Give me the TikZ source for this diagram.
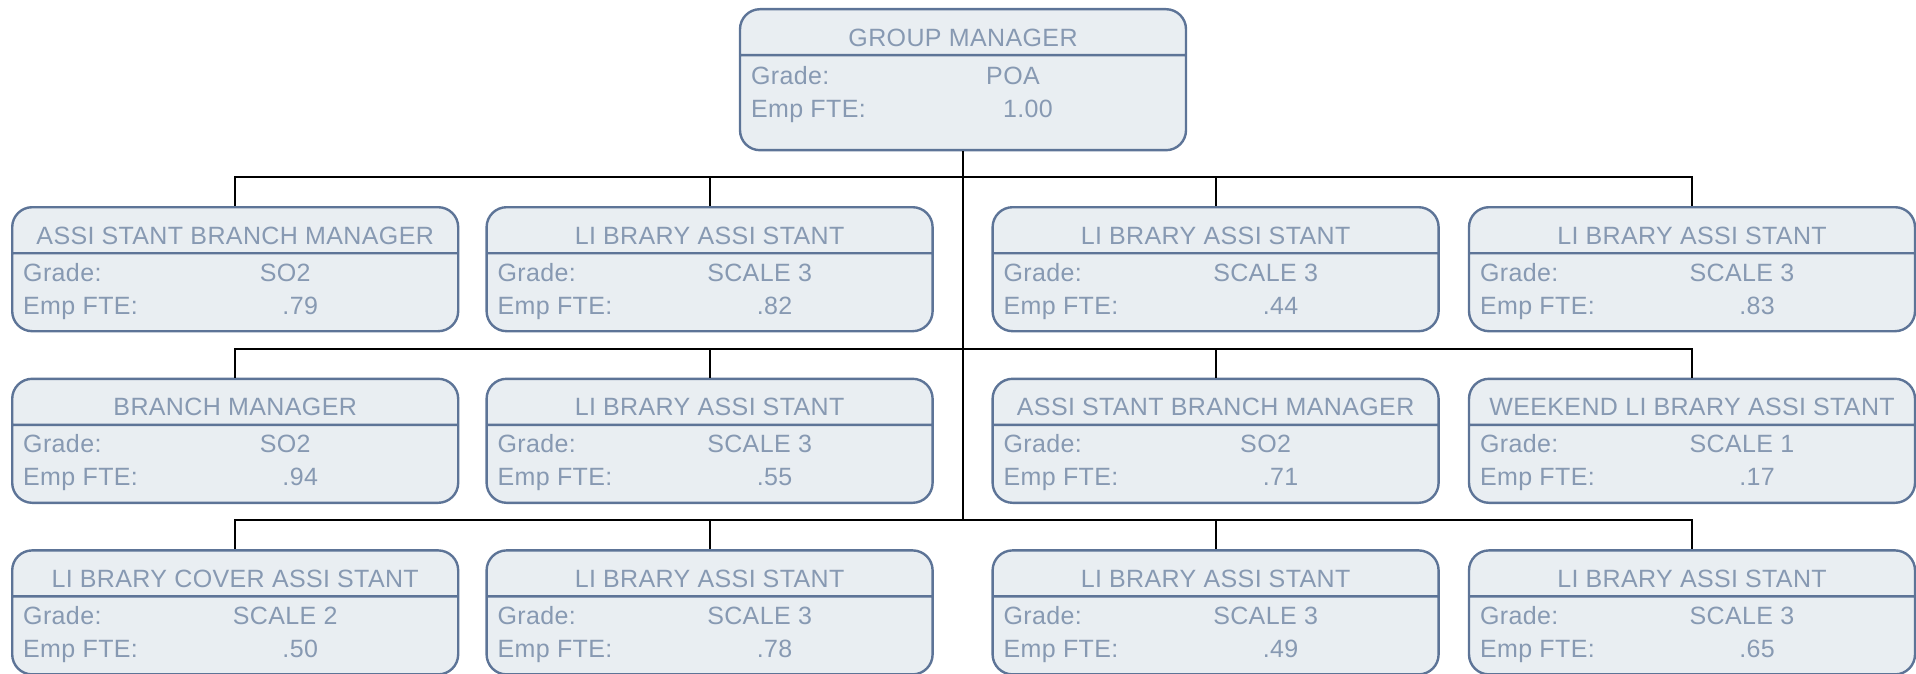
\documentclass[tikz,border=0pt]{standalone}
\usepackage{fontspec}
\setmainfont{Liberation Sans}
\newfontfamily\rolefont[LetterSpace=1.5]{Liberation Sans}
\usetikzlibrary{positioning,shapes.multipart}

\definecolor{boxfill}{HTML}{E9EEF2}
\definecolor{boxline}{HTML}{5D7497}
\definecolor{boxtext}{HTML}{8799B2}

% title part and grade/fte part of a box
\newcommand\roletitle[1]{\makebox[223pt]{\rule[-3.9pt]{0pt}{21.8pt}#1}}
\newcommand\roleinfo[4][13.4pt]{\vbox{\hsize=223pt\baselineskip=16.5pt\lineskiplimit=-\maxdimen
  \hbox to 223pt{\rule{0pt}{#1}\hspace{5.5pt}\rlap{Grade:}\hspace{131pt}\makebox[0pt]{#2}\hfil}
  \hbox to 223pt{\rule[-#4]{0pt}{0pt}\hspace{5.5pt}\rlap{Emp FTE:}\hspace{138.5pt}\makebox[0pt]{#3}\hfil}}}
\newcommand\Ik{I\kern3.5pt}

\begin{document}
\begin{tikzpicture}[
  x=0.5pt, y=-0.5pt,
  node distance=22.6pt and 13pt,
  role/.style={rectangle split, rectangle split parts=2, rounded corners=10pt, draw=boxline, line width=1.2pt, fill=boxfill, text=boxtext, inner xsep=0pt, inner ysep=0pt, font=\rolefont\fontsize{12.5}{15}\selectfont},
  link/.style={line width=1pt, black}
]
\useasboundingbox (0,0) rectangle (1916,674);

\node[role, anchor=north] (gm) at (963,8) {\roletitle{GROUP MANAGER}\nodepart{two}\roleinfo[13.9pt]{POA}{1.00}{15.9pt}};

\node[role, anchor=north west] (a1) at (11,206) {\roletitle{ASS\Ik STANT BRANCH MANAGER}\nodepart{two}\roleinfo{SO2}{.79}{7.9pt}};
\node[role, right=of a1] (a2) {\roletitle{L\Ik BRARY ASS\Ik STANT}\nodepart{two}\roleinfo{SCALE 3}{.82}{7.9pt}};
\node[role, right=28.8pt of a2] (a3) {\roletitle{L\Ik BRARY ASS\Ik STANT}\nodepart{two}\roleinfo{SCALE 3}{.44}{7.9pt}};
\node[role, right=14pt of a3] (a4) {\roletitle{L\Ik BRARY ASS\Ik STANT}\nodepart{two}\roleinfo{SCALE 3}{.83}{7.9pt}};

\node[role, below=of a1] (b1) {\roletitle{BRANCH MANAGER}\nodepart{two}\roleinfo{SO2}{.94}{7.9pt}};
\node[role, below=of a2] (b2) {\roletitle{L\Ik BRARY ASS\Ik STANT}\nodepart{two}\roleinfo{SCALE 3}{.55}{7.9pt}};
\node[role, below=of a3] (b3) {\roletitle{ASS\Ik STANT BRANCH MANAGER}\nodepart{two}\roleinfo{SO2}{.71}{7.9pt}};
\node[role, below=of a4] (b4) {\roletitle{WEEKEND L\Ik BRARY ASS\Ik STANT}\nodepart{two}\roleinfo{SCALE 1}{.17}{7.9pt}};

\node[role, below=of b1] (c1) {\roletitle{L\Ik BRARY COVER ASS\Ik STANT}\nodepart{two}\roleinfo{SCALE 2}{.50}{7.9pt}};
\node[role, below=of b2] (c2) {\roletitle{L\Ik BRARY ASS\Ik STANT}\nodepart{two}\roleinfo{SCALE 3}{.78}{7.9pt}};
\node[role, below=of b3] (c3) {\roletitle{L\Ik BRARY ASS\Ik STANT}\nodepart{two}\roleinfo{SCALE 3}{.49}{7.9pt}};
\node[role, below=of b4] (c4) {\roletitle{L\Ik BRARY ASS\Ik STANT}\nodepart{two}\roleinfo{SCALE 3}{.65}{7.9pt}};

% trunk and the three buses
\draw[link] (gm.south) -- ([yshift=14.5pt]gm.south |- c1.north);
\foreach \r in {a,b,c} {
  \draw[link] (\r1.north) -- ++(0,14.5pt) -| (\r4.north);
  \draw[link] (\r2.north) -- ++(0,14.5pt);
  \draw[link] (\r3.north) -- ++(0,14.5pt);
}
\end{tikzpicture}
\end{document}
